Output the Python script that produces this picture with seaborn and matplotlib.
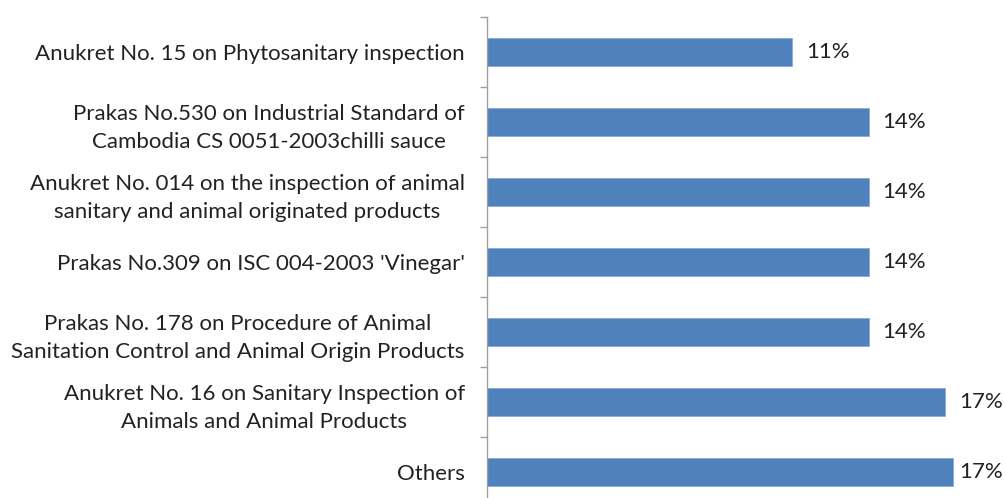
import matplotlib
matplotlib.use("Agg")
import matplotlib.pyplot as plt
import seaborn as sns
import pandas as pd
from matplotlib.ticker import FixedLocator

# values (percent)
regulations = [
    "Anukret No. 15 on Phytosanitary inspection",
    "Prakas No.530 on Industrial Standard of\nCambodia CS 0051-2003chilli sauce",
    "Anukret No. 014 on the inspection of animal\nsanitary and animal originated products",
    "Prakas No.309 on ISC 004-2003 'Vinegar'",
    "Prakas No. 178 on Procedure of Animal\nSanitation Control and Animal Origin Products",
    "Anukret No. 16 on Sanitary Inspection of\nAnimals and Animal Products",
    "Others",
]
shares = [11.2, 14.0, 14.0, 14.0, 14.0, 16.8, 17.1]
share_labels = ["11%", "14%", "14%", "14%", "14%", "17%", "17%"]


def main():
    sns.set_theme(style="white")
    plt.rcParams["font.family"] = ["Lato", "DejaVu Sans"]

    df = pd.DataFrame({"regulation": regulations, "share": shares})

    fig = plt.figure(figsize=(10.05, 4.98), dpi=100)
    ax = fig.add_axes([487 / 1005, -9 / 498, 518 / 1005, 490 / 498])

    sns.barplot(data=df, y="regulation", x="share", orient="h", width=0.4,
                color="#4F81BD", saturation=1, edgecolor="#8EA9D6", linewidth=0.6, ax=ax)

    texts = ax.bar_label(ax.containers[0], labels=share_labels, padding=10,
                         fontsize=16, color="#222222")
    # last label squeezed against the right edge, as in the original
    texts[-1].xyann = (4, 0)

    ax.set_xlim(0, 19)
    ax.set_ylim(len(regulations) - 0.5, -0.5)
    ax.set_xlabel("")
    ax.set_ylabel("")
    ax.set_xticks([])

    for s in ["top", "right", "bottom"]:
        ax.spines[s].set_visible(False)
    ax.spines["left"].set_color("#A0A0A0")
    ax.spines["left"].set_linewidth(1)

    ax.tick_params(axis="y", which="major", length=0, pad=16, labelsize=16,
                   labelcolor="#222222")
    for lbl in ax.get_yticklabels():
        lbl.set_multialignment("center")
        lbl.set_linespacing(1.5)
    ax.yaxis.set_minor_locator(FixedLocator([i + 0.5 for i in range(-1, len(regulations))]))
    ax.tick_params(axis="y", which="minor", left=True, length=5, width=1, color="#A0A0A0")

    fig.savefig("out.png", dpi=100)
    plt.close(fig)


if __name__ == "__main__":
    main()
